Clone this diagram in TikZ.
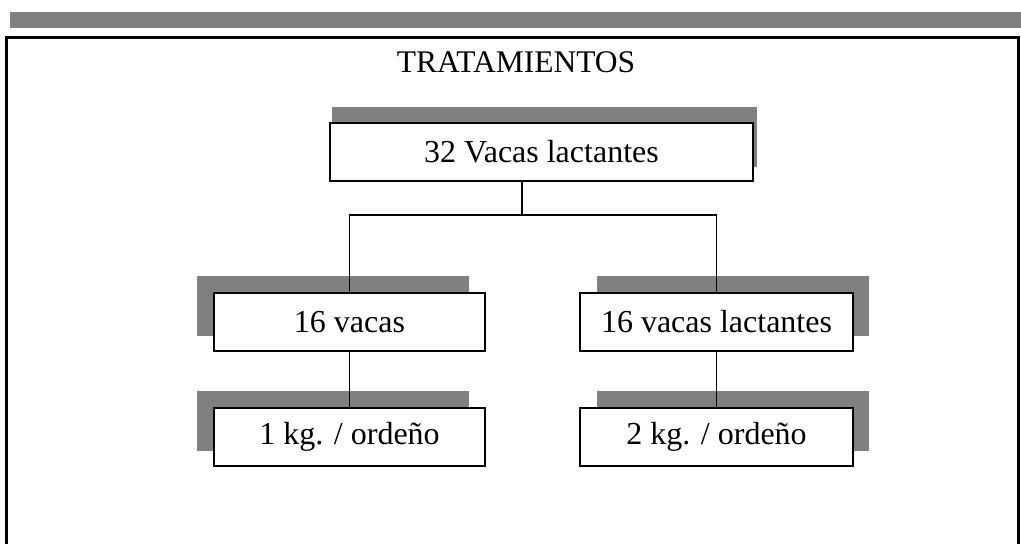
\documentclass[tikz,border=0pt]{standalone}
\usepackage{fontspec}
\setmainfont{Liberation Serif}
\definecolor{shadowgray}{RGB}{128,128,128}
\begin{document}
\begin{tikzpicture}[x=1pt,y=-1pt,
  box/.style={draw=black,line width=1.8pt,fill=white,inner sep=0pt,
    minimum height=58pt,font=\fontsize{32}{36}\selectfont},
  shadow/.style={fill=shadowgray,draw=none},
  conn/.style={line width=1.5pt}]
\useasboundingbox (0,0) rectangle (1021,544);
% top gray bar
\fill[shadowgray] (10,12) rectangle (1021,28);
% frame (open at the bottom)
\draw[line width=3pt] (6,544) -- (6,37) -- (1018,37) -- (1018,544);
% title
\node[font=\fontsize{31.5}{36}\selectfont] (title) at (516,62) {TRATAMIENTOS};
% shadows
\fill[shadowgray] (332,107) rectangle (757,167);
\fill[shadowgray] (197,276) rectangle (469,336);
\fill[shadowgray] (597,276) rectangle (869,336);
\fill[shadowgray] (197,391) rectangle (469,451);
\fill[shadowgray] (597,391) rectangle (869,451);
% boxes
\node[box,minimum width=423pt] (top) at (541.5,152) {32 Vacas lactantes};
\node[box,minimum width=271pt] (ml) at (349.5,322) {16 vacas};
\node[box,minimum width=273pt] (mr) at (716.5,322) {16 vacas lactantes};
\node[box,minimum width=271pt] (bl) at (349.5,437) {1 kg. / ordeño};
\node[box,minimum width=273pt] (br) at (716.5,437) {2 kg. / ordeño};
% connectors
\coordinate (hub) at (522,215);
\coordinate (hl) at (ml.north |- hub);
\coordinate (hr) at (mr.north |- hub);
\draw[conn] (hub |- top.south) -- (hub);
\draw[conn] (ml.north) -- (hl) -- (hr) -- (mr.north);
\draw[conn] (ml.south) -- (bl.north);
\draw[conn] (mr.south) -- (br.north);
\end{tikzpicture}
\end{document}
